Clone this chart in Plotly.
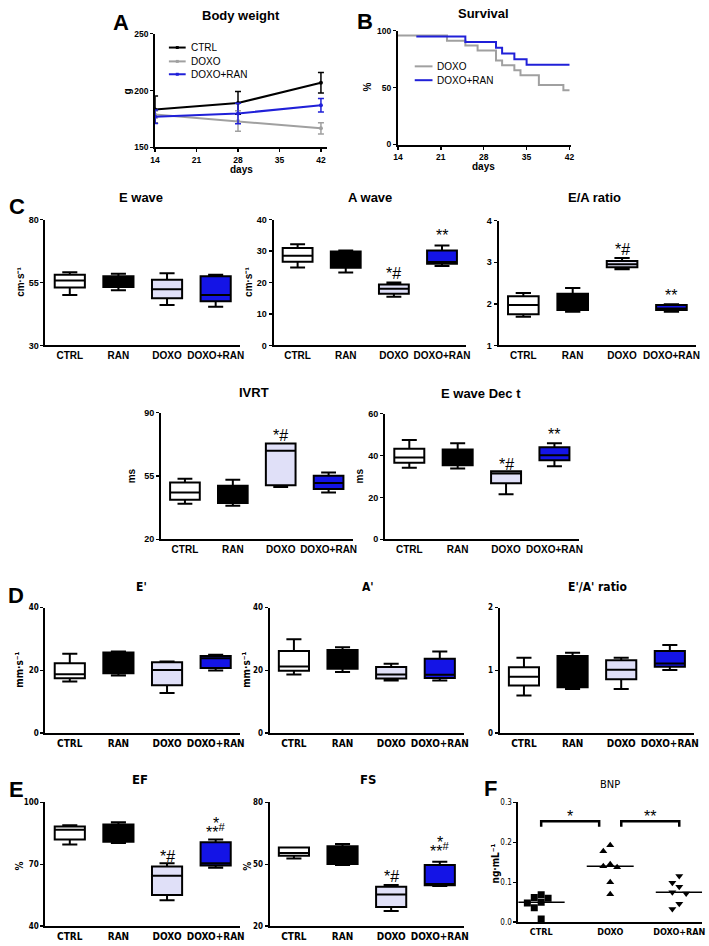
import numpy as np
import plotly.graph_objects as go

W, H = 709, 946

# ---------------- data ----------------
groups = ["CTRL", "RAN", "DOXO", "DOXO+RAN"]

# A: body weight (g) at days
bw_days = [14, 28, 42]
bw_ctrl = [183.3, 189.1, 206.8]
bw_ctrl_err = [12, 10, 9]
bw_doxo = [179.0, 173.2, 166.8]
bw_doxo_err = [3, 9, 5]
bw_dr = [177.0, 179.9, 187.1]
bw_dr_err = [6, 9, 6]

# B: survival (%)
surv_doxo_t = [14, 22, 25, 27, 30, 31, 33, 34, 37, 41, 42]
surv_doxo = [95.7, 91.3, 87.0, 82.6, 73.9, 69.6, 65.2, 60.9, 52.2, 47.8, 47.8]
surv_dr_t = [17, 25, 30, 31, 33, 35, 42]
surv_dr = [95, 90, 85, 80, 75, 70, 70]

# box stats per group: [min, q1, median, q3, max]
e_wave = [[50.0, 53.0, 55.8, 58.1, 59.1], [51.9, 53.2, 54.8, 57.5, 58.5],
          [46.1, 48.7, 52.3, 56.1, 58.7], [45.4, 47.6, 50.0, 57.5, 58.1]]
a_wave = [[24.8, 26.6, 28.5, 31.0, 32.2], [23.2, 24.7, 29.3, 29.9, 30.2],
          [15.5, 16.4, 18.0, 19.4, 20.0], [25.3, 26.0, 26.5, 30.2, 31.8]]
ea_ratio = [[1.69, 1.75, 1.97, 2.18, 2.26], [1.81, 1.85, 1.97, 2.24, 2.38],
            [2.83, 2.88, 2.95, 3.03, 3.10], [1.81, 1.85, 1.89, 1.97, 1.99]]
ivrt = [[39.7, 41.9, 45.9, 51.4, 53.4], [38.6, 40.1, 43.4, 49.6, 52.9],
        [48.9, 49.8, 69.0, 73.0, 73.0], [45.9, 47.8, 51.1, 55.1, 56.9]]
dec_t = [[34.1, 36.5, 39.0, 43.2, 47.4], [33.8, 35.3, 38.0, 42.9, 45.8],
         [21.5, 26.7, 31.4, 32.5, 32.5], [34.9, 37.7, 40.1, 44.0, 45.8]]
e_prime = [[16.5, 17.5, 18.8, 22.3, 25.3], [18.4, 19.1, 20.5, 25.7, 26.0],
           [12.8, 15.3, 20.1, 22.6, 22.8], [20.0, 20.8, 23.9, 24.6, 25.0]]
a_prime = [[18.7, 19.9, 21.2, 26.2, 29.9], [19.5, 20.5, 23.7, 26.5, 27.4],
           [16.8, 17.4, 18.7, 21.1, 22.1], [16.8, 17.6, 18.6, 23.7, 26.0]]
ea_prime = [[0.60, 0.76, 0.90, 1.05, 1.20], [0.705, 0.73, 0.89, 1.23, 1.28],
            [0.705, 0.86, 1.01, 1.16, 1.20], [1.005, 1.057, 1.11, 1.31, 1.405]]
ef = [[79.6, 82.0, 86.8, 88.4, 88.9], [80.4, 80.9, 82.9, 89.3, 90.4],
      [52.6, 55.1, 64.5, 68.9, 70.5], [68.3, 69.4, 70.5, 80.7, 82.0]]
fs = [[52.8, 54.2, 55.5, 58.2, 58.2], [49.7, 50.2, 56.3, 58.8, 59.8],
      [27.4, 29.3, 35.4, 39.1, 40.0], [39.5, 39.8, 40.5, 49.7, 51.3]]

# significance marks: (group, y value, text)
sig_a_wave = [("DOXO", 22.9, "*#"), ("DOXO+RAN", 35.0, "**")]
sig_ea_ratio = [("DOXO", 3.31, "*#"), ("DOXO+RAN", 2.2, "**")]
sig_ivrt = [("DOXO", 77.6, "*#")]
sig_dec_t = [("DOXO", 35.8, "*#"), ("DOXO+RAN", 49.8, "**")]
sig_ef = [("DOXO", 73.7, "*#"), ("DOXO+RAN", 89.6, "*"), ("DOXO+RAN", 86.0, "**<sup>#</sup>")]
sig_fs = [("DOXO", 44.2, "*#"), ("DOXO+RAN", 60.6, "*"), ("DOXO+RAN", 56.9, "**<sup>#</sup>")]

# F: BNP (ng/mL)
bnp_groups = ["CTRL", "DOXO", "DOXO+RAN"]
bnp_ctrl = [0.008, 0.036, 0.048, 0.050, 0.060, 0.062, 0.069]
bnp_doxo = [0.070, 0.100, 0.138, 0.140, 0.145, 0.178, 0.193]
bnp_dr = [0.033, 0.046, 0.072, 0.075, 0.089, 0.099, 0.116]
bnp_brackets = [(0.0, 0.84, "*"), (1.16, 2.0, "**")]
bnp_bracket_y = 0.253
bnp_bracket_drop = 0.014

# ---------------- style ----------------
FONT = "Liberation Sans, Arial, sans-serif"
NARROW = "Liberation Sans Narrow, Arial Narrow, DejaVu Sans Condensed, sans-serif"
box_fill = {"CTRL": "#FFFFFF", "RAN": "#000000", "DOXO": "#E0E0F8", "DOXO+RAN": "#1414E6"}
C_BLACK, C_GRAY, C_BLUE = "#000000", "#A0A0A0", "#2020D8"
SIG_SIZE = 16

fig = go.Figure()
layout = dict(width=W, height=H, margin=dict(l=0, r=0, t=0, b=0),
              paper_bgcolor="white", plot_bgcolor="white", boxmode="overlay",
              annotations=[], shapes=[], showlegend=False)


def xd(a, b):
    return [a / W, min(b / W, 1.0)]


def yd(t, b):
    return [1 - b / H, 1 - t / H]


def axis_common(**kw):
    d = dict(showline=True, linecolor="black", linewidth=2, showgrid=False,
             zeroline=False, ticks="outside", ticklen=4, tickwidth=1.5,
             tickcolor="black", fixedrange=True)
    d.update(kw)
    return d


def tf(size, family=FONT, bold=True):
    return dict(family=family, size=size, color="black", weight="bold" if bold else "normal")


def ann(text, x, y, size, bold=True, angle=0, family=FONT, xanchor="center"):
    layout["annotations"].append(dict(
        text=text, x=x / W, y=1 - y / H, xref="paper", yref="paper",
        showarrow=False, textangle=angle, font=tf(size, family, bold),
        xanchor=xanchor, yanchor="middle"))


def legend_entry(x0, x1, y, col, label, dot=True):
    layout["shapes"].append(dict(type="line", xref="paper", yref="paper",
                                 x0=x0 / W, x1=x1 / W, y0=1 - y / H, y1=1 - y / H,
                                 line=dict(color=col, width=2)))
    if dot:
        xc = (x0 + x1) / 2
        layout["shapes"].append(dict(type="rect", xref="paper", yref="paper",
                                     x0=(xc - 1.5) / W, x1=(xc + 1.5) / W,
                                     y0=1 - (y + 1.5) / H, y1=1 - (y - 1.5) / H,
                                     fillcolor=col, line=dict(width=0)))
    ann(label, x1 + 3, y, 10, False, 0, FONT, "left")


# ---------------- A: body weight ----------------
for name, vals, err, col in [("CTRL", bw_ctrl, bw_ctrl_err, C_BLACK),
                             ("DOXO", bw_doxo, bw_doxo_err, C_GRAY),
                             ("DOXO+RAN", bw_dr, bw_dr_err, C_BLUE)]:
    fig.add_trace(go.Scatter(
        x=bw_days, y=vals, name=name, mode="lines+markers",
        line=dict(color=col, width=2), marker=dict(size=4, color=col),
        error_y=dict(type="data", array=err, color=col, thickness=1.5, width=3),
        xaxis="x", yaxis="y", cliponaxis=False))
layout["xaxis"] = axis_common(domain=xd(152, 326), range=[14, 43], tickvals=[14, 21, 28, 35, 42],
                              tickfont=tf(8.5), ticklen=3, anchor="y")
layout["yaxis"] = axis_common(domain=yd(29, 144), range=[150, 250], tickvals=[150, 200, 250],
                              tickfont=tf(8.5), ticklen=3, anchor="x")
layout["annotations"] += [
    dict(text="*", x=43.4, y=190.6, xref="x", yref="y", showarrow=False, font=tf(14, bold=False), yshift=-4),
    dict(text="**", x=43.4, y=185.7, xref="x", yref="y", showarrow=False, font=tf(14, bold=False), yshift=-4),
    dict(text="*", x=43.4, y=166.8, xref="x", yref="y", showarrow=False, font=tf(14, bold=False), yshift=-4),
]
legend_entry(166, 183, 43, C_BLACK, "CTRL")
legend_entry(166, 183, 57, C_GRAY, "DOXO")
legend_entry(166, 183, 70, C_BLUE, "DOXO+RAN")

# ---------------- B: survival ----------------
fig.add_trace(go.Scatter(x=surv_doxo_t, y=surv_doxo, name="DOXO", mode="lines",
                         line=dict(color=C_GRAY, width=2, shape="hv"),
                         xaxis="x2", yaxis="y2"))
fig.add_trace(go.Scatter(x=surv_dr_t, y=surv_dr, name="DOXO+RAN", mode="lines",
                         line=dict(color=C_BLUE, width=2, shape="hv"),
                         xaxis="x2", yaxis="y2"))
layout["xaxis2"] = axis_common(domain=xd(398, 573), range=[14, 42.2], tickvals=[14, 21, 28, 35, 42],
                               tickfont=tf(8.5), ticklen=3, anchor="y2")
layout["yaxis2"] = axis_common(domain=yd(26, 141), range=[0, 100], tickvals=[0, 50, 100],
                               tickfont=tf(8.5), ticklen=3, anchor="x2")
legend_entry(415, 433, 62, C_GRAY, "DOXO", dot=False)
legend_entry(415, 433, 76, C_BLUE, "DOXO+RAN", dot=False)


# ---------------- box panels ----------------
def box_panel(n, data, xdom, ydom, yr, yt, sig=(), yfont=9, xfont=10, fam=FONT, ybold=True):
    xa, ya = f"x{n}", f"y{n}"
    for g, st in zip(groups, data):
        fig.add_trace(go.Box(
            x=[g], lowerfence=[st[0]], q1=[st[1]], median=[st[2]], q3=[st[3]],
            upperfence=[st[4]], fillcolor=box_fill[g], line=dict(color="black", width=2),
            width=0.62, whiskerwidth=0.5, boxpoints=False, showlegend=False,
            hoverinfo="skip", xaxis=xa, yaxis=ya))
    layout[f"xaxis{n}"] = axis_common(domain=xd(*xdom), range=[-0.5, 3.5], type="category",
                                      categoryorder="array", categoryarray=groups, ticks="",
                                      tickangle=0, tickfont=tf(xfont, fam), anchor=ya)
    layout[f"yaxis{n}"] = axis_common(domain=yd(*ydom), range=yr, tickvals=yt,
                                      tickfont=tf(yfont, fam, ybold), ticklen=3, anchor=xa)
    for g, yv, txt in sig:
        layout["annotations"].append(dict(
            text=txt, x=g, y=yv, xref=xa, yref=ya, showarrow=False,
            font=tf(SIG_SIZE, bold=False)))


box_panel(3, e_wave, (41, 238), (217, 344), [30, 80], [30, 55, 80])
box_panel(4, a_wave, (272, 467), (217, 344), [0, 40], [0, 10, 20, 30, 40], sig_a_wave)
box_panel(5, ea_ratio, (500, 700), (218, 344), [1, 4], [1, 2, 3, 4], sig_ea_ratio)
box_panel(6, ivrt, (158, 352), (412, 540), [20, 90], [20, 55, 90], sig_ivrt)
box_panel(7, dec_t, (385, 581), (413, 540), [0, 60], [0, 20, 40, 60], sig_dec_t)
box_panel(8, e_prime, (41, 238), (609, 736), [0, 40], [0, 20, 40], (), 8, 10, NARROW)
box_panel(9, a_prime, (268, 465), (609, 736), [0, 40], [0, 20, 40], (), 8, 10, NARROW)
box_panel(10, ea_prime, (501, 698), (609, 736), [0, 2], [0, 1, 2], (), 8, 10, NARROW)
box_panel(11, ef, (41, 238), (806, 931), [40, 100], [40, 70, 100], sig_ef, 8, 10, NARROW)
box_panel(12, fs, (268, 465), (806, 931), [20, 80], [20, 50, 80], sig_fs, 8, 10, NARROW)

# ---------------- F: BNP ----------------
bnp_x0, bnp_x1 = 520, 706
bnp_range = [-0.33, 2.33]
bnp_top, bnp_bot = 806, 927
bnp_yr = [0, 0.3]
xppu = (bnp_x1 - bnp_x0) / (bnp_range[1] - bnp_range[0])
yppu = (bnp_bot - bnp_top) / (bnp_yr[1] - bnp_yr[0])


def beeswarm(vals, diam=7.0, step_px=7.0):
    vals = np.asarray(vals, dtype=float)
    order = np.argsort(-vals)
    placed = []
    offs = np.zeros(len(vals))
    cands = [0.0] + [s * j for j in range(1, 8) for s in (-1, 1)]
    for i in order:
        for c in cands:
            dx = c * step_px
            if all(np.hypot(dx - px, (vals[i] - pv) * yppu) >= diam for px, pv in placed):
                placed.append((dx, vals[i]))
                offs[i] = dx / xppu
                break
    return offs


for gi, (vals, sym) in enumerate([(bnp_ctrl, "square"), (bnp_doxo, "triangle-up"),
                                  (bnp_dr, "triangle-down")]):
    offs = beeswarm(vals)
    fig.add_trace(go.Scatter(x=gi + offs, y=vals, mode="markers",
                             marker=dict(symbol=sym, size=7, color="black"),
                             showlegend=False, xaxis="x13", yaxis="y13", hoverinfo="skip"))
    med = float(np.median(vals))
    fig.add_trace(go.Scatter(x=[gi - 0.34, gi + 0.34], y=[med, med], mode="lines",
                             line=dict(color="black", width=1.5), showlegend=False,
                             xaxis="x13", yaxis="y13", hoverinfo="skip"))

for bx0, bx1, txt in bnp_brackets:
    fig.add_trace(go.Scatter(
        x=[bx0, bx0, bx1, bx1],
        y=[bnp_bracket_y - bnp_bracket_drop, bnp_bracket_y, bnp_bracket_y, bnp_bracket_y - bnp_bracket_drop],
        mode="lines", line=dict(color="black", width=2.5), showlegend=False,
        xaxis="x13", yaxis="y13", hoverinfo="skip"))
    layout["annotations"].append(dict(text=txt, x=(bx0 + bx1) / 2, y=bnp_bracket_y + 0.012,
                                      xref="x13", yref="y13", showarrow=False,
                                      font=tf(SIG_SIZE, bold=False)))

layout["xaxis13"] = axis_common(domain=xd(bnp_x0, bnp_x1), range=bnp_range, tickvals=[0, 1, 2],
                                ticktext=bnp_groups, ticks="", tickangle=0,
                                tickfont=tf(9, NARROW), anchor="y13")
layout["yaxis13"] = axis_common(domain=yd(bnp_top, bnp_bot), range=bnp_yr,
                                tickvals=[0, 0.1, 0.2, 0.3], tickformat=".1f", ticklen=3,
                                tickfont=tf(8, NARROW, False), anchor="x13")

# ---------------- titles, letters, axis labels ----------------
ann("Body weight", 239, 11, 13)
ann("Survival", 485, 9, 13)
ann("E wave", 138, 195, 13)
ann("A wave", 370, 195, 13)
ann("E/A ratio", 597, 195, 13)
ann("IVRT", 252, 392, 13)
ann("E wave Dec t", 482, 393, 13)
ann("E'", 138, 588, 12, True, 0, NARROW)
ann("A'", 368, 588, 12, True, 0, NARROW)
ann("E'/A' ratio", 600, 588, 12, True, 0, NARROW)
ann("EF", 137, 783, 13, True, 0, NARROW)
ann("FS", 368, 783, 13, True, 0, NARROW)
ann("BNP", 613, 788, 11, False, 0, NARROW)

for letter, lx, ly in [("A", 117, 18), ("B", 365, 17), ("C", 12, 204),
                       ("D", 11, 597), ("E", 12, 793), ("F", 492, 792)]:
    ann(letter, lx, ly, 22)

ann("g", 124, 87, 10, True, -90)
ann("%", 367, 83, 10, True, -90)
ann("days", 240, 166, 10)
ann("days", 485, 163, 10)
ann("cm·s⁻¹", 15, 280, 10, True, -90)
ann("cm·s⁻¹", 246, 280, 10, True, -90)
ann("ms", 129, 476, 10, True, -90)
ann("ms", 360, 476, 10, True, -90)
ann("mm·s⁻¹", 15, 672, 10, True, -90, NARROW)
ann("mm·s⁻¹", 245, 672, 10, True, -90, NARROW)
ann("%", 15, 870, 10, True, -90, NARROW)
ann("%", 246, 870, 10, True, -90, NARROW)
ann("ng·mL⁻¹", 497, 868, 10, True, -90, NARROW)

fig.update_layout(**layout)
fig.write_html("out.html", config={"displayModeBar": False, "staticPlot": True},
               post_script="document.body.style.margin='0px';document.body.style.overflow='hidden';")
